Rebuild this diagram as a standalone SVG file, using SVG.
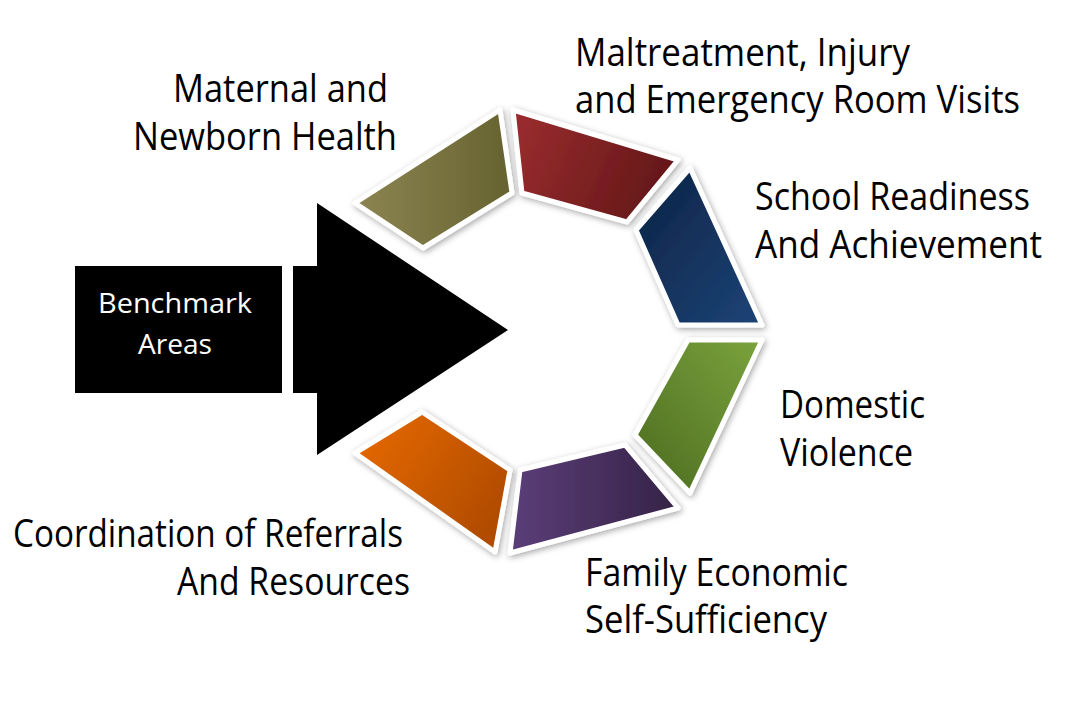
<svg xmlns="http://www.w3.org/2000/svg" width="1078" height="702" viewBox="0 0 1078 702">
<defs>
<style>
.lbl{font-family:"Open Sans","Noto Sans","Liberation Sans",sans-serif;font-size:38px;fill:#000}
.wlbl{font-family:"Open Sans","Noto Sans","Liberation Sans",sans-serif;font-size:28px;fill:#fff}
.seg{stroke:#fff;stroke-width:5;stroke-linejoin:round;filter:url(#sh)}
</style>
<filter id="sh" x="-20%" y="-20%" width="140%" height="140%">
<feDropShadow dx="1.5" dy="2" stdDeviation="3" flood-color="#000" flood-opacity="0.35"/>
</filter>
<linearGradient id="gOl" x1="0" y1="0" x2="1" y2="0"><stop offset="0" stop-color="#8c8552"/><stop offset="1" stop-color="#66622f"/></linearGradient>
<linearGradient id="gRd" x1="0" y1="0" x2="1" y2="0.3"><stop offset="0" stop-color="#9c2d30"/><stop offset="1" stop-color="#661819"/></linearGradient>
<linearGradient id="gNv" x1="0" y1="0" x2="1" y2="1"><stop offset="0" stop-color="#0c2244"/><stop offset="1" stop-color="#1d4477"/></linearGradient>
<linearGradient id="gGr" x1="1" y1="0" x2="0" y2="1"><stop offset="0" stop-color="#7aa33c"/><stop offset="1" stop-color="#4b6b21"/></linearGradient>
<linearGradient id="gPu" x1="0" y1="0" x2="1" y2="0"><stop offset="0" stop-color="#5b3e79"/><stop offset="1" stop-color="#352346"/></linearGradient>
<linearGradient id="gOr" x1="0" y1="0" x2="1" y2="0.6"><stop offset="0" stop-color="#ea6b00"/><stop offset="1" stop-color="#b14c00"/></linearGradient>
</defs>
<rect width="1078" height="702" fill="#fff"/>

<g id="benchmark">
<rect x="75" y="266" width="207" height="127" fill="#000"/>
<text class="wlbl" x="98" y="313" textLength="154" lengthAdjust="spacingAndGlyphs">Benchmark</text>
<text class="wlbl" x="138" y="354" textLength="74" lengthAdjust="spacingAndGlyphs">Areas</text>
</g>

<g id="connectors">
<polygon points="293,266 317,266 317,203 508,330 317,455 317,393 293,393" fill="#000"/>
</g>

<g id="maternal">
<polygon class="seg" fill="url(#gOl)" points="355,203 500,110 512,193 423,248"/>
<text class="lbl" x="173" y="102" textLength="215" lengthAdjust="spacingAndGlyphs">Maternal and</text>
<text class="lbl" x="133" y="150" textLength="264" lengthAdjust="spacingAndGlyphs">Newborn Health</text>
</g>

<g id="maltreatment">
<polygon class="seg" fill="url(#gRd)" points="513,110 678,160 627,222 522,193"/>
<text class="lbl" x="575" y="66" textLength="335" lengthAdjust="spacingAndGlyphs">Maltreatment, Injury</text>
<text class="lbl" x="575" y="113" textLength="445" lengthAdjust="spacingAndGlyphs">and Emergency Room Visits</text>
</g>

<g id="school">
<polygon class="seg" fill="url(#gNv)" points="690,168 762,325 678,325 636,230"/>
<text class="lbl" x="755" y="210" textLength="275" lengthAdjust="spacingAndGlyphs">School Readiness</text>
<text class="lbl" x="755" y="258" textLength="287" lengthAdjust="spacingAndGlyphs">And Achievement</text>
</g>

<g id="domestic">
<polygon class="seg" fill="url(#gGr)" points="762,340 688,340 635,435 690,493"/>
<text class="lbl" x="780" y="418" textLength="145" lengthAdjust="spacingAndGlyphs">Domestic</text>
<text class="lbl" x="780" y="466" textLength="133" lengthAdjust="spacingAndGlyphs">Violence</text>
</g>

<g id="family">
<polygon class="seg" fill="url(#gPu)" points="520,470 625,445 678,508 510,553"/>
<text class="lbl" x="585" y="586" textLength="263" lengthAdjust="spacingAndGlyphs">Family Economic</text>
<text class="lbl" x="585" y="633" textLength="242" lengthAdjust="spacingAndGlyphs">Self-Sufficiency</text>
</g>

<g id="coordination">
<polygon class="seg" fill="url(#gOr)" points="355,453 422,412 510,470 495,552"/>
<text class="lbl" x="13" y="547" textLength="390" lengthAdjust="spacingAndGlyphs">Coordination of Referrals</text>
<text class="lbl" x="177" y="595" textLength="233" lengthAdjust="spacingAndGlyphs">And Resources</text>
</g>
</svg>
